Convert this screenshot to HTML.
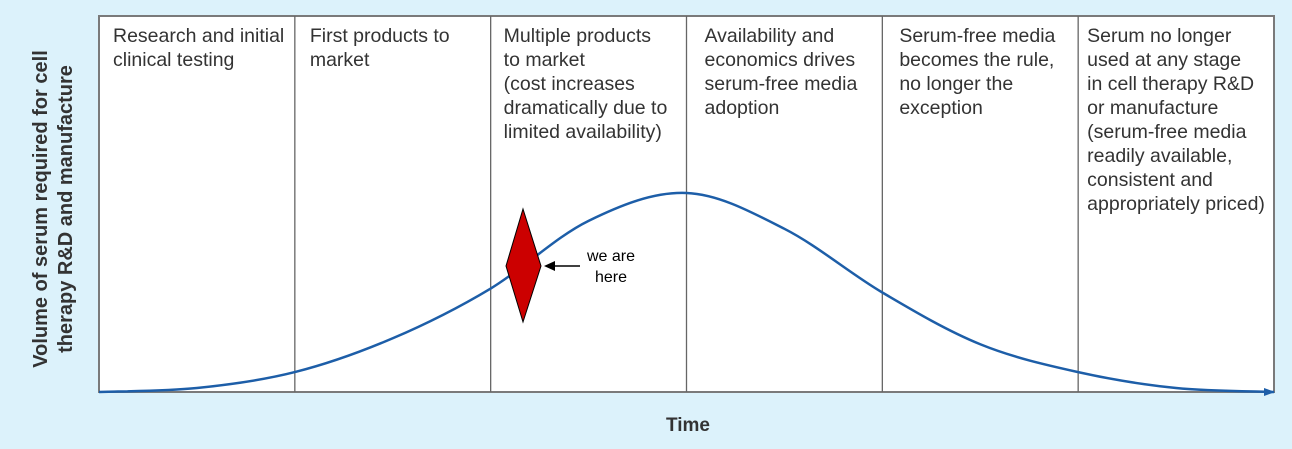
<!DOCTYPE html>
<html><head><meta charset="utf-8"><style>
html,body{margin:0;padding:0;background:#dcf2fb;}
svg{display:block;font-family:"Liberation Sans",Arial,sans-serif;}
</style></head><body>
<svg id="chart" width="1292" height="449">
<rect x="0" y="0" width="1292" height="449" fill="#dcf2fb"/>
<rect x="99" y="16" width="1175" height="376" fill="#fff" stroke="#7a7a7a" stroke-width="2"/>
<g id="dividers"></g>
<g id="labels" font-size="19.5" fill="#333"></g>
<path id="curve" fill="none" stroke="#1d5ea8" stroke-width="2.5"/>
<polygon points="1264,388 1275,392 1264,396" fill="#1d5ea8"/>
<polygon points="523,209 541,266 523,322 506,266" fill="#cc0000" stroke="#000" stroke-width="1"/>
<line x1="580" y1="266" x2="552" y2="266" stroke="#000" stroke-width="1.5"/>
<polygon points="544,266 555,261 555,271" fill="#000"/>
<text x="611" y="261" font-size="16" text-anchor="middle" fill="#000"><tspan x="611">we are</tspan><tspan x="611" dy="21">here</tspan></text>
<text transform="translate(47,209) rotate(-90)" font-size="20" font-weight="bold" fill="#333" text-anchor="middle"><tspan x="0" y="0">Volume of serum required for cell</tspan><tspan x="0" y="25">therapy R&amp;D and manufacture</tspan></text>
<text x="688" y="431" font-size="19" font-weight="bold" fill="#333" text-anchor="middle">Time</text>
</svg>
<script>
const phaseLabels = [
 ["Research and initial","clinical testing"],
 ["First products to","market"],
 ["Multiple products","to market","(cost increases","dramatically due to","limited availability)"],
 ["Availability and","economics drives","serum-free media","adoption"],
 ["Serum-free media","becomes the rule,","no longer the","exception"],
 ["Serum no longer","used at any stage","in cell therapy R&D","or manufacture","(serum-free media","readily available,","consistent and","appropriately priced)"]
];
const timePoints = [0,0.5,1,1.5,2,2.5,3,3.5,4,4.5,5,5.5,6];
const volumeValues = [0,2,10,27,52,86,100,82,50,24,10,2,0];

const labelOffsets=[14,15,13,18,17,9];
const X0=99,X1=1274,Y0=392,Y1=193;
const xScale=t=>X0+(X1-X0)*t/6;
const yScale=v=>Y0-(Y0-Y1)*v/100;
const NS="http://www.w3.org/2000/svg";
const dv=document.getElementById('dividers');
for(let i=1;i<6;i++){
 const l=document.createElementNS(NS,'line');
 const x=xScale(i);
 l.setAttribute('x1',x);l.setAttribute('x2',x);l.setAttribute('y1',16);l.setAttribute('y2',392);
 l.setAttribute('stroke','#666');l.setAttribute('stroke-width','1.3');
 
 
 dv.appendChild(l);
}
const lg=document.getElementById('labels');
phaseLabels.forEach((lines,i)=>{
 const t=document.createElementNS(NS,'text');
 
 
 const x=xScale(i)+labelOffsets[i];
 lines.forEach((s,j)=>{
  const sp=document.createElementNS(NS,'tspan');
  sp.setAttribute('x',x);sp.setAttribute('y',42+j*24);
  sp.textContent=s;t.appendChild(sp);
 });
 lg.appendChild(t);
});
const pts=timePoints.map((t,i)=>[xScale(t),yScale(volumeValues[i])]);
let d=`M${pts[0][0]},${pts[0][1]}`;
for(let i=0;i<pts.length-1;i++){
 const p0=pts[Math.max(0,i-1)],p1=pts[i],p2=pts[i+1],p3=pts[Math.min(pts.length-1,i+2)];
 const c1=[p1[0]+(p2[0]-p0[0])/6,p1[1]+(p2[1]-p0[1])/6];
 const c2=[p2[0]-(p3[0]-p1[0])/6,p2[1]-(p3[1]-p1[1])/6];
 d+=` C${c1[0]},${c1[1]} ${c2[0]},${c2[1]} ${p2[0]},${p2[1]}`;
}
document.getElementById('curve').setAttribute('d',d);
</script>
</body></html>
